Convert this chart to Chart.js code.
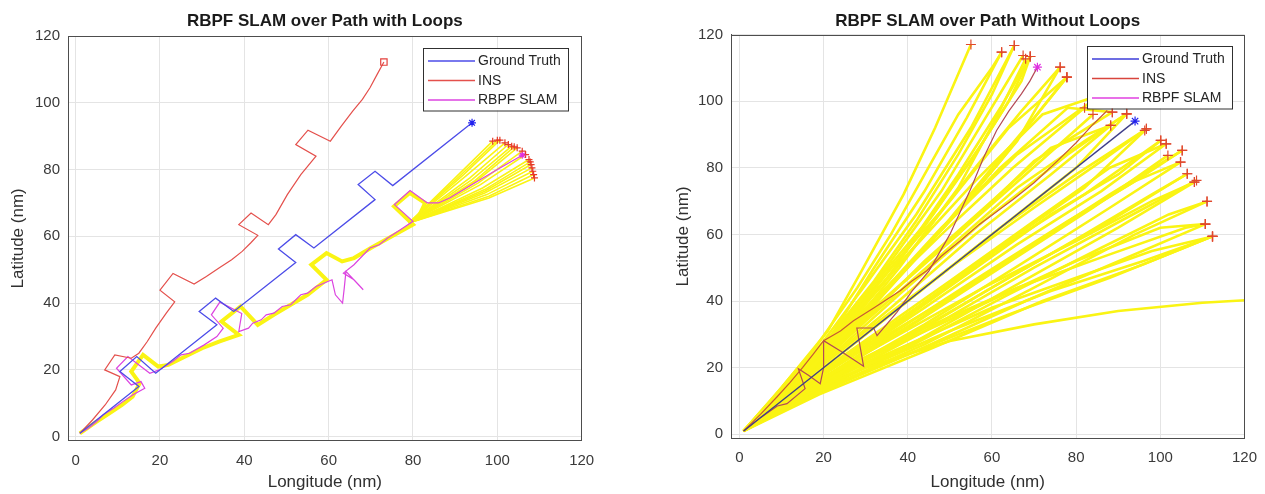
<!DOCTYPE html>
<html>
<head>
<meta charset="utf-8">
<script src="https://cdn.jsdelivr.net/npm/chart.js@4.4.1/dist/chart.umd.min.js"></script>
<style>
  html, body { margin: 0; padding: 0; background: #fff; }
  body { width: 1265px; height: 494px; position: relative; overflow: hidden; }
  .panel { position: absolute; top: 0; height: 494px; }
  #leftPanel { left: 0; width: 632px; }
  #rightPanel { left: 632px; width: 633px; }
</style>
</head>
<body>
<div class="panel" id="leftPanel"><canvas id="loopsChart"></canvas></div>
<div class="panel" id="rightPanel"><canvas id="noLoopsChart"></canvas></div>
<script>
// tick labels, both axes, both plots
const tickValues = [0, 20, 40, 60, 80, 100, 120];
const legendNames = ['Ground Truth', 'INS', 'RBPF SLAM'];

// ---- left plot: path with loops ----
const loopsTruth = [[1, 1], [15, 15], [10.5, 19.5], [14.5, 24], [19, 19], [33.5, 33.5], [29.3, 37.5], [33.2, 41.5], [37.5, 37.5],
  [52.2, 52.2], [48.1, 56.2], [52.2, 60.5], [56.5, 56.5], [71, 71], [67, 75.5], [71, 79.5], [75.2, 75.2], [94, 94]];

const loopsIns = [[1, 1], [4, 5], [7, 9.5], [9.5, 14], [10.5, 18], [6.9, 20], [9.3, 24.5], [13.2, 23.5], [15, 25], [17, 28.5],
  [19, 32.5], [21.5, 37], [23.5, 40.4], [20, 43.9], [23.1, 48.9], [28.1, 45.7], [31, 48], [34, 50.5], [37, 53], [39.5, 55.5],
  [41.5, 58], [43.2, 60.3], [38.7, 63.5], [41.6, 67], [45.7, 63.5], [47.5, 66.5], [50.2, 72.5], [53.4, 78.5], [57, 84],
  [52.2, 87.5], [55.1, 91.8], [60.4, 88.5], [63, 93], [65.7, 97.5], [68, 101], [69.8, 104.5], [71.5, 108.5], [73.1, 112.2]];

const loopsSlam = [[1, 1], [3, 2.5], [5, 4.5], [6.5, 6.5], [9, 8.5], [11.2, 10.5], [13.5, 12.5], [16.4, 14.5], [15.5, 16.5],
  [13.2, 15.5], [9.7, 20.5], [12.4, 24], [17.6, 19], [19.8, 20], [23, 22.5], [25, 24.5], [27, 25], [30.5, 27.5], [33.5, 30],
  [35, 32.5], [32.2, 36.5], [34.2, 40.3], [39.4, 36.9], [38.7, 31.5], [41, 32.5], [42, 34], [44, 35], [45.2, 36.5], [47, 37],
  [49, 39], [51, 39.5], [53.4, 42.5], [55, 43], [57, 45], [60.8, 47], [61.6, 42.5], [63.3, 40], [63.7, 44.5], [64.1, 49.5],
  [68.2, 44], [66, 47], [63.5, 49], [66, 51.5], [69.8, 56.5], [72, 57.5], [74, 59.5], [77, 62], [80, 64.5], [75.6, 69.5],
  [79.3, 73.7], [83.4, 70], [86, 70], [88.7, 71.5], [94, 75.5], [100, 80], [105.9, 84.3]];

const loopsParticleTrunk = [[1, 1], [5, 4.5], [8, 7], [11, 9.5], [13.5, 12], [15.2, 16], [13.2, 19.5], [16, 24.5], [19.6, 21],
  [22, 21.5], [26, 24], [30, 26.5], [34, 28.5], [38.7, 30.5], [34.6, 34.5], [39.1, 39], [43.2, 33.5], [47, 36.5], [51, 39.5],
  [55, 42.5], [59.5, 47], [55.9, 51.5], [59.5, 55], [63.2, 52.5], [66, 53.5], [70, 56.5], [75, 60], [80, 63.5], [75.5, 69],
  [79.2, 73], [82.9, 70], [81, 65]];

const loopsParticleFan = [
  [[79, 64], [90, 77.5], [98.9, 88.5]],
  [[79, 64], [91, 78], [100, 88.8]],
  [[79, 64], [92, 78.5], [100.6, 88.8]],
  [[79, 64], [92.5, 78], [101.8, 88]],
  [[79, 64], [93.5, 77.5], [102.6, 87.5]],
  [[79, 64], [94, 77], [103.4, 87]],
  [[79, 64], [94.5, 76.5], [104, 86.8]],
  [[79, 64], [95, 76.5], [104.7, 86.5]],
  [[79, 64], [95.5, 76], [105.9, 85.5]],
  [[79, 64], [96, 75.5], [106.7, 84.5]],
  [[79, 64], [96.5, 74.5], [107.5, 83]],
  [[79, 64], [97, 74], [107.8, 82.3]],
  [[79, 64], [97, 73.5], [108, 81.5]],
  [[79, 64], [97, 73], [108.2, 80.5]],
  [[79, 64], [97.5, 72.5], [108.4, 79.5]],
  [[79, 64], [98, 72], [108.6, 78.5]],
  [[79, 64], [98, 71.5], [108.8, 77.5]]
];

// ---- right plot: path without loops ----
const straightTruth = [[1, 1], [94, 94]];

const straightIns = [[1, 1], [5, 6], [8.9, 11.2], [12, 15.5], [15, 20], [17.5, 24], [20, 28.1], [24, 31], [27.1, 34.1], [32, 38],
  [38.2, 43.1], [41, 46], [44.5, 49.1], [48, 53.5], [52.5, 58.1], [57, 63], [60.2, 66], [65, 70.5], [70, 75.5], [75.5, 82],
  [80, 87.5], [84, 93], [87.4, 97.2]];

const straightSlam = [[1, 1], [5, 5], [9, 8.5], [11.3, 9.2], [15.6, 13.7], [14, 19.7], [16.4, 17.7], [19.2, 15.2], [20, 20],
  [20, 28.1], [24, 25], [29.5, 20.4], [27.9, 31.9], [31.9, 31.9], [32.7, 29.6], [37.4, 36.6], [41, 43], [45, 49], [50, 60],
  [55.1, 74.1], [58, 83], [61.1, 91.2], [64, 97], [67, 102.2], [69, 106], [70.8, 110.2]];

const straightParticles = [
  [[1, 1], [10, 14], [21, 31], [29, 49], [39, 72], [46.5, 92], [55, 117]],
  [[1, 1], [12, 16], [22, 30], [32, 50], [44, 73], [54, 95], [62.3, 114.7]],
  [[1, 1], [11, 15], [20, 28], [30, 45], [42, 66], [55, 92], [65.3, 116.7]],
  [[1, 1], [12, 15], [24, 32], [36, 52], [48, 73], [58, 94], [67.4, 113.7]],
  [[1, 1], [13, 16], [26, 34], [40, 56], [52, 78], [62, 98], [69.1, 113.4]],
  [[1, 1], [12, 14], [25, 30], [38, 50], [52, 74], [61, 95], [68, 112.7]],
  [[1, 1], [14, 17], [28, 36], [42, 57], [56, 80], [67, 97], [76.2, 110.2]],
  [[1, 1], [14, 16], [30, 36], [45, 57], [60, 80], [70, 95], [77.8, 107.2]],
  [[1, 1], [15, 18], [32, 40], [48, 62], [66, 84], [86, 102]],
  [[1, 1], [14, 17], [30, 38], [48, 60], [65, 80], [82, 98]],
  [[1, 1], [15, 17], [32, 38], [50, 58], [68, 78], [84, 96]],
  [[1, 1], [16, 18], [34, 40], [52, 60], [70, 82], [88.6, 96.7]],
  [[1, 1], [16, 17], [36, 38], [56, 60], [74, 78], [88.2, 92.7]],
  [[1, 1], [17, 18], [38, 42], [58, 64], [78, 84], [92, 96.2]],
  [[1, 1], [18, 18], [40, 40], [62, 62], [80, 78], [96.7, 91.7]],
  [[1, 1], [18, 17], [42, 38], [64, 58], [82, 74], [96.3, 91.2]],
  [[1, 1], [18, 17], [40, 36], [62, 56], [82, 72], [100.1, 88.2]],
  [[1, 1], [19, 17], [44, 38], [66, 57], [86, 73], [101.4, 87.2]],
  [[1, 1], [19, 16], [42, 34], [66, 54], [88, 72], [105.2, 85.2]],
  [[1, 1], [18, 15], [40, 32], [62, 50], [84, 68], [101.8, 83.7]],
  [[1, 1], [19, 15], [44, 33], [68, 52], [88, 68], [104.8, 81.7]],
  [[1, 1], [18, 14], [40, 29], [64, 47], [88, 64], [106.4, 78.2]],
  [[1, 1], [19, 14], [44, 31], [70, 50], [92, 65], [108.6, 76.2]],
  [[1, 1], [18, 13], [42, 28], [66, 45], [90, 62], [108.1, 75.7]],
  [[1, 1], [19, 13], [44, 27], [70, 44], [94, 60], [111.1, 69.9]],
  [[1, 1], [18, 12], [42, 25], [68, 40], [92, 53], [110.7, 63.1]],
  [[1, 1], [19, 12], [46, 26], [72, 40], [96, 51], [112.4, 59.4]],
  [[1, 1], [17, 12], [40, 24], [64, 36], [88, 47], [112.4, 59.4]],
  [[1, 1], [15, 11], [30, 20], [50, 28], [70, 33], [90, 37], [110, 39.5], [124, 40.5]],
  [[1, 1], [8, 11], [18, 26], [28, 44], [36, 60], [44, 78], [52, 96], [60, 110], [62.3, 114.7]],
  [[1, 1], [9, 11], [20, 27], [32, 46], [42, 64], [52, 84], [60, 102], [65.3, 116.7]],
  [[1, 1], [10, 12], [22, 28], [34, 45], [46, 66], [58, 88], [67, 106], [69.1, 113.4]],
  [[1, 1], [12, 14], [24, 30], [38, 48], [50, 64], [62, 82], [72, 98], [77.8, 107.2]],
  [[1, 1], [11, 13], [26, 31], [40, 50], [54, 70], [66, 88], [76.2, 110.2]],
  [[1, 1], [13, 15], [28, 32], [44, 52], [60, 70], [74, 86], [88.2, 92.7]],
  [[1, 1], [14, 15], [30, 31], [48, 48], [66, 66], [80, 80], [92, 96.2]],
  [[1, 1], [15, 15], [32, 30], [50, 46], [70, 64], [88, 80], [101.4, 87.2]],
  [[1, 1], [16, 15], [34, 29], [54, 44], [76, 62], [94, 76], [104.8, 81.7]],
  [[1, 1], [17, 15], [38, 30], [58, 44], [80, 58], [98, 70], [108.1, 75.7]],
  [[1, 1], [15, 13], [34, 25], [56, 38], [80, 52], [100, 62], [110.7, 63.1]],
  [[1, 1], [14, 11], [30, 20], [50, 31], [74, 43], [96, 52], [112.4, 59.4]],
  [[1, 1], [13, 12], [28, 22], [46, 33], [66, 44], [88, 54], [106, 62], [110.7, 63.1]],
  [[1, 1], [13, 11], [26, 19], [42, 28], [60, 38], [80, 47], [98, 55], [112.4, 59.4]],
  [[1, 1], [10, 13], [22, 30], [34, 48], [46, 66], [56, 84], [64, 100], [69.1, 113.4]],
  [[1, 1], [11, 14], [24, 32], [36, 50], [50, 70], [64, 92], [77.8, 107.2]],
  [[1, 1], [12, 15], [26, 34], [40, 54], [56, 76], [72, 96], [86, 102]],
  [[1, 1], [12, 14], [28, 34], [44, 56], [62, 80], [78, 98], [88.6, 96.7]],
  [[1, 1], [13, 14], [30, 34], [48, 54], [66, 74], [82, 88], [92, 96.2]],
  [[1, 1], [14, 14], [32, 32], [50, 50], [70, 68], [86, 82], [96.7, 91.7]],
  [[1, 1], [14, 13], [34, 30], [54, 48], [74, 66], [90, 78], [100.1, 88.2]],
  [[1, 1], [15, 13], [36, 30], [58, 48], [78, 64], [94, 76], [105.2, 85.2]],
  [[1, 1], [16, 13], [38, 28], [60, 44], [82, 60], [98, 72], [106.4, 78.2]],
  [[1, 1], [16, 12], [40, 26], [64, 42], [86, 56], [102, 66], [111.1, 69.9]]
];

Chart.defaults.font.family = '"Liberation Sans", Arial, sans-serif';
Chart.defaults.color = '#3a3a3a';

const pts = arr => arr.map(([x, y]) => ({ x: x, y: y }));
const lastPts = paths => paths.map(p => p[p.length - 1]).filter(([x]) => x < 118);

function pathSet(points, color, width, order, extra) {
  return Object.assign({
    data: pts(points), showLine: true, borderColor: color, borderWidth: width,
    pointRadius: 0, fill: false, order: order
  }, extra || {});
}

function markerSet(points, style, color, radius, order) {
  return {
    data: pts(points), showLine: false, pointStyle: style, pointRadius: radius,
    borderColor: color, backgroundColor: 'rgba(0,0,0,0)', pointBorderWidth: 1.2, order: order
  };
}

// axes box on all four sides + legend box inside the plot, top right
const frameAndLegend = {
  id: 'frameAndLegend',
  afterDraw(chart, args, opts) {
    const { ctx, chartArea: a } = chart;
    ctx.save();
    ctx.strokeStyle = '#4d4d4d';
    ctx.lineWidth = 1;
    ctx.strokeRect(Math.round(a.left) + 0.5, Math.round(a.top) + 0.5, Math.round(a.width) - 1, Math.round(a.height) - 1);

    const items = chart.data.datasets.filter(d => legendNames.includes(d.label));
    const w = 145, h = 62.5;
    const x0 = Math.round(a.right - opts.right - w), y0 = Math.round(a.top + opts.top);
    ctx.fillStyle = '#fff';
    ctx.fillRect(x0, y0, w, h);
    ctx.strokeStyle = '#303030';
    ctx.strokeRect(x0 + 0.5, y0 + 0.5, w, h);
    ctx.font = '14px "Liberation Sans", Arial, sans-serif';
    ctx.textBaseline = 'middle';
    items.forEach((d, i) => {
      const y = y0 + 13 + i * 19.5;
      ctx.strokeStyle = d.legendColor || d.borderColor;
      ctx.lineWidth = 1.5;
      ctx.beginPath();
      ctx.moveTo(x0 + 5, y);
      ctx.lineTo(x0 + 52, y);
      ctx.stroke();
      ctx.fillStyle = '#262626';
      ctx.fillText(d.label, x0 + 55, y + 0.5);
    });
    ctx.restore();
  }
};

function plotOptions(title, sizes) {
  return {
    responsive: true,
    maintainAspectRatio: false,
    animation: false,
    events: [],
    layout: { padding: { left: sizes.padLeft, right: sizes.padRight, top: 0, bottom: 0 } },
    scales: {
      x: {
        type: 'linear', min: sizes.xMin, max: 120,
        afterBuildTicks: s => { s.ticks = tickValues.map(v => ({ value: v })); },
        afterFit: s => { s.height = sizes.xAxisHeight; },
        // invisible tick marks give the label gap without widening the side padding
        grid: { color: '#e4e4e4', drawTicks: true, tickLength: 11, tickColor: 'rgba(0,0,0,0)' },
        border: { color: '#4d4d4d' },
        ticks: { font: { size: 15 }, padding: 0, maxRotation: 0 },
        title: { display: true, text: 'Longitude (nm)', color: '#303030', font: { size: 17 }, padding: { top: 0, bottom: 1.8 } }
      },
      y: {
        type: 'linear', min: sizes.yMin, max: 120,
        afterBuildTicks: s => { s.ticks = tickValues.map(v => ({ value: v })); },
        afterFit: s => { s.width = sizes.yAxisWidth; },
        grid: { color: '#e4e4e4', drawTicks: false },
        border: { color: '#4d4d4d' },
        ticks: { font: { size: 15 }, padding: 8 },
        title: { display: true, text: 'Latitude (nm)', color: '#303030', font: { size: 17 }, padding: { top: 0, bottom: 0 } }
      }
    },
    plugins: {
      legend: { display: false },
      tooltip: { enabled: false },
      title: {
        display: true, text: title, fullSize: false, color: '#1a1a1a',
        font: { size: 17, weight: 'bold' }, padding: { top: 10.8, bottom: sizes.titleBottom }
      },
      frameAndLegend: sizes.legend
    }
  };
}

const yellow = 'rgb(250, 244, 20)';

new Chart(document.getElementById('loopsChart'), {
  type: 'scatter',
  plugins: [frameAndLegend],
  data: {
    datasets: [
      pathSet(loopsTruth, '#4c4ce8', 1.3, 2, { label: 'Ground Truth' }),
      pathSet(loopsIns, '#e4504c', 1.2, 2, { label: 'INS' }),
      pathSet(loopsSlam, '#dc44e0', 1.2, 2, { label: 'RBPF SLAM' }),
      markerSet([loopsTruth[loopsTruth.length - 1]], 'star', '#2020ee', 4, 0),
      markerSet([loopsIns[loopsIns.length - 1]], 'rect', '#e4403c', 4.5, 0),
      markerSet(lastPts(loopsParticleFan), 'cross', '#e63a26', 3.5, 1),
      markerSet([loopsSlam[loopsSlam.length - 1]], 'star', '#e030e0', 3.5, 0),
      pathSet(loopsParticleTrunk, yellow, 4, 6),
      ...loopsParticleFan.map(p => pathSet(p, yellow, 1.6, 5))
    ]
  },
  options: plotOptions('RBPF SLAM over Path with Loops', {
    padLeft: 8, padRight: 50.3, xMin: -1.8, yMin: -1.2, xAxisHeight: 53.3, yAxisWidth: 60, titleBottom: 4.8,
    legend: { right: 13.4, top: 12.3 }
  })
});

new Chart(document.getElementById('noLoopsChart'), {
  type: 'scatter',
  plugins: [frameAndLegend],
  data: {
    datasets: [
      pathSet(straightTruth, '#3e3e88', 1.3, 2, { label: 'Ground Truth', legendColor: '#3c3cd8' }),
      pathSet(straightIns, '#c85a34', 1.2, 2, { label: 'INS', legendColor: '#d8443c' }),
      pathSet(straightSlam, '#b44a56', 1.2, 2, { label: 'RBPF SLAM', legendColor: '#e040e0' }),
      markerSet([straightTruth[straightTruth.length - 1]], 'star', '#2020ee', 4.5, 0),
      markerSet([straightSlam[straightSlam.length - 1]], 'star', '#e030e0', 4.5, 0),
      markerSet(lastPts(straightParticles), 'cross', '#e0482c', 5, 1),
      ...straightParticles.map(p => pathSet(p, yellow, 2.6, 5))
    ]
  },
  options: plotOptions('RBPF SLAM over Path Without Loops', {
    padLeft: 40.8, padRight: 20.5, xMin: -2, yMin: -1.2, xAxisHeight: 55.7, yAxisWidth: 58.2, titleBottom: 3.3,
    legend: { right: 12.3, top: 11.7 }
  })
});
</script>
</body>
</html>
